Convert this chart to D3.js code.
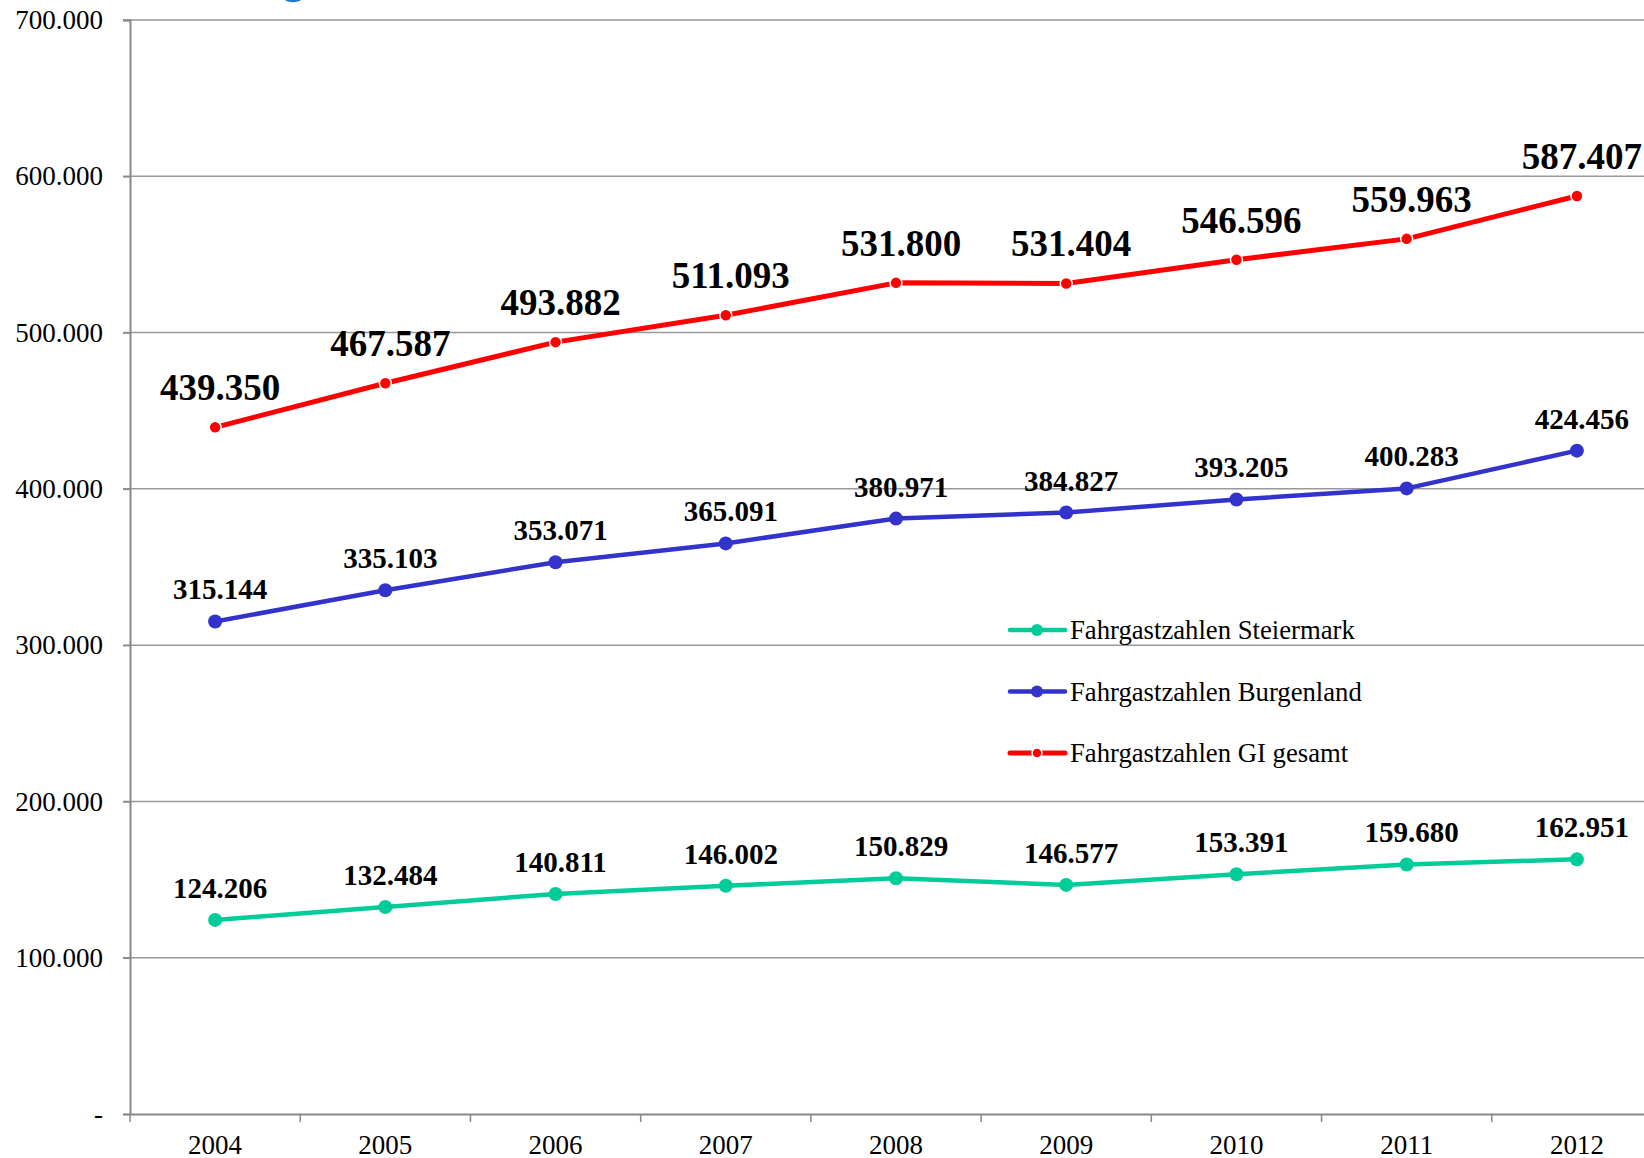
<!DOCTYPE html>
<html>
<head>
<meta charset="utf-8">
<script src="https://cdn.jsdelivr.net/npm/d3@7"></script>
<style>
  body { margin: 0; background: #fff; }
  svg { display: block; font-family: "Liberation Serif", "Times New Roman", serif; }
</style>
</head>
<body>
<div id="chart-container"></div>
<script>
var years = ['2004', '2005', '2006', '2007', '2008', '2009', '2010', '2011', '2012']
var steiermark = [124206, 132484, 140811, 146002, 150829, 146577, 153391, 159680, 162951]
var burgenland = [315144, 335103, 353071, 365091, 380971, 384827, 393205, 400283, 424456]
var giGesamt = [439350, 467587, 493882, 511093, 531800, 531404, 546596, 559963, 587407]
var yTicks = [0, 100000, 200000, 300000, 400000, 500000, 600000, 700000]
var seriesNames = ['Fahrgastzahlen Steiermark', 'Fahrgastzahlen Burgenland', 'Fahrgastzahlen GI gesamt']

var width = 1644, height = 1158
var margin = {left: 130, top: 20, bottom: 44}
var plotRight = 1662   // plot area runs slightly past the window edge

var svg = d3.select('#chart-container')
  .append('svg')
  .attr('width', width)
  .attr('height', height)

var x = d3.scaleBand().domain(years).range([margin.left, plotRight])
var y = d3.scaleLinear().domain([0, 700000]).range([height - margin.bottom, margin.top])

var fmt = function(v){
  if (v === 0) return '-'
  return d3.format(',')(v).replace(/,/g, '.')
}

// little logo fragment cut off at the top
svg.append('path')
  .attr('d', 'M285,0 A9,4 0 0 0 301,0 Z')
  .style('fill', '#1a7ad0')

// gridlines
svg.append('g')
  .selectAll('line')
  .data(yTicks.filter(d => d > 0))
  .enter().append('line')
    .attr('x1', margin.left - 7)
    .attr('x2', width)
    .attr('y1', d => y(d))
    .attr('y2', d => y(d))
    .style('stroke', '#999')
    .style('stroke-width', '1.5px')

// y axis
var yAxis = svg.append('g')
  .attr('transform', 'translate(' + margin.left + ',0)')
  .call(d3.axisLeft(y).tickValues(yTicks).tickFormat(fmt).tickSize(7).tickPadding(20))
  .attr('font-family', '"Liberation Serif", serif')
  .attr('font-size', 27)
yAxis.select('.domain').style('stroke', '#888').style('stroke-width', '2px')
yAxis.selectAll('.tick line').style('stroke', '#888').style('stroke-width', '1.5px')
yAxis.selectAll('.tick text').style('fill', '#000')

// x axis: ticks between categories
var xAxis = svg.append('g')
  .attr('transform', 'translate(0,' + y(0) + ')')
  .call(d3.axisBottom(x).tickSize(0).tickPadding(21))
  .attr('font-family', '"Liberation Serif", serif')
  .attr('font-size', 27)
xAxis.select('.domain').style('stroke', '#888').style('stroke-width', '2px')
xAxis.selectAll('.tick text').style('fill', '#000')
xAxis.selectAll('line.sep')
  .data(years)
  .enter().append('line')
    .attr('class', 'sep')
    .attr('x1', d => x(d))
    .attr('x2', d => x(d))
    .attr('y1', 0)
    .attr('y2', 8)
    .style('stroke', '#888')
    .style('stroke-width', '1.5px')

var series = [
  {name: seriesNames[0], values: steiermark, colour: '#00cc99', width: 4.5, r: 7, stroke: 'none', labelSize: 29, labelGap: 22},
  {name: seriesNames[1], values: burgenland, colour: '#3333cc', width: 4.5, r: 7, stroke: 'none', labelSize: 29, labelGap: 22},
  {name: seriesNames[2], values: giGesamt, colour: '#ff0000', width: 5, r: 6, stroke: '#fff', labelSize: 37, labelGap: 27}
]

var line = d3.line()
  .x((d, i) => x(years[i]) + x.bandwidth() / 2)
  .y(d => y(d))

series.forEach(function(s){
  var g = svg.append('g').attr('class', 'series')

  g.append('path')
    .datum(s.values)
    .attr('d', line)
    .style('fill', 'none')
    .style('stroke', s.colour)
    .style('stroke-width', s.width + 'px')
    .style('stroke-linejoin', 'round')

  g.selectAll('circle')
    .data(s.values)
    .enter().append('circle')
      .attr('cx', (d, i) => x(years[i]) + x.bandwidth() / 2)
      .attr('cy', d => y(d))
      .attr('r', s.r)
      .style('fill', s.colour)
      .style('stroke', s.stroke)
      .style('stroke-width', '1.5px')

  g.selectAll('text')
    .data(s.values)
    .enter().append('text')
      .attr('x', (d, i) => x(years[i]) + x.bandwidth() / 2 + 5)
      .attr('y', d => y(d) - s.labelGap)
      .attr('text-anchor', 'middle')
      .style('font-weight', 'bold')
      .style('font-size', s.labelSize + 'px')
      .text(fmt)
})

// legend
var legend = svg.append('g').attr('class', 'legend')
series.forEach(function(s, i){
  var ly = 630 + i * 61.5
  legend.append('line')
    .attr('x1', 1010)
    .attr('x2', 1065)
    .attr('y1', ly)
    .attr('y2', ly)
    .style('stroke', s.colour)
    .style('stroke-width', s.width + 'px')
    .style('stroke-linecap', 'round')
  legend.append('circle')
    .attr('cx', 1037)
    .attr('cy', ly)
    .attr('r', s.r - 1)
    .style('fill', s.colour)
    .style('stroke', s.stroke)
    .style('stroke-width', '1.5px')
  legend.append('text')
    .attr('x', 1070)
    .attr('y', ly + 9)
    .style('font-size', '26.7px')
    .text(s.name)
})
</script>
</body>
</html>
